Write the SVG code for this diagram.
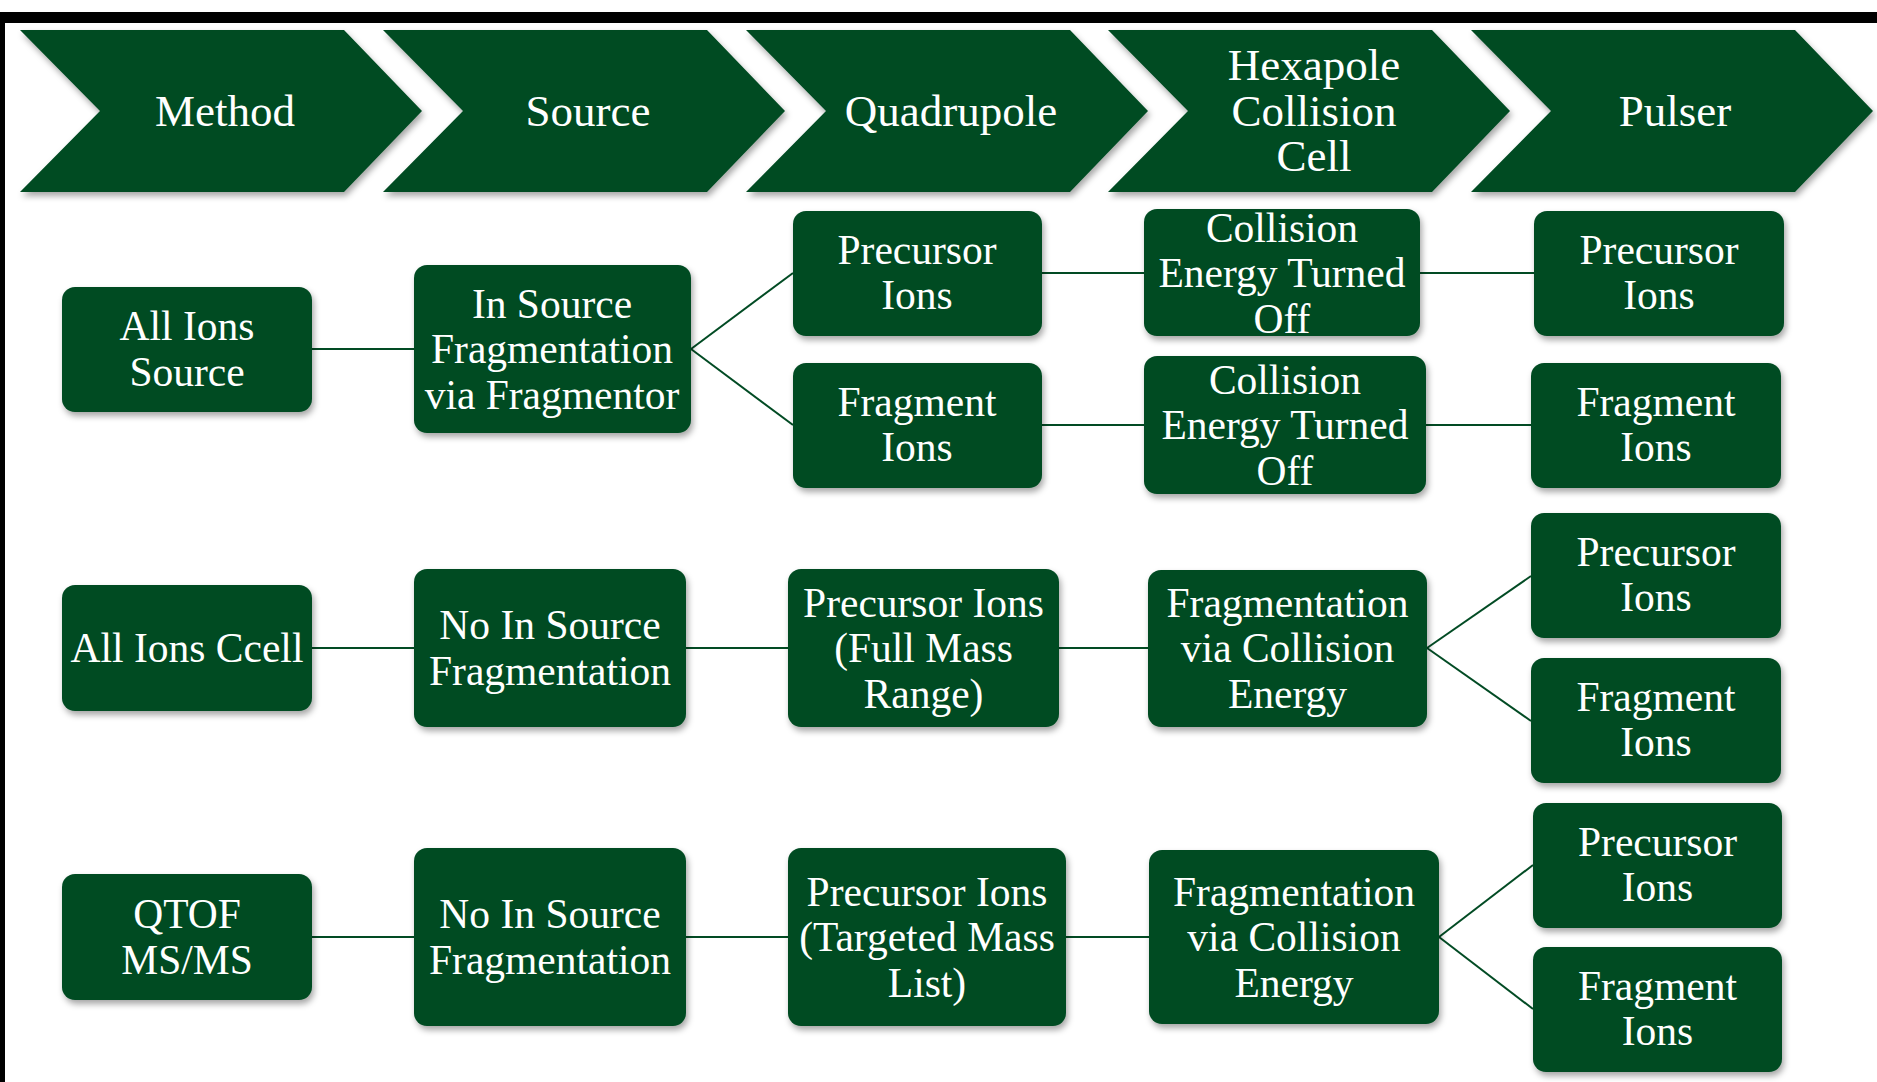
<svg xmlns="http://www.w3.org/2000/svg" width="1877" height="1082" viewBox="0 0 1877 1082">
<style>
.chev{fill:#024B24;filter:url(#sh)}
.box{fill:#024B24;filter:url(#sh)}
.ct{fill:#fff;font-family:"Liberation Serif","Times New Roman",serif;font-size:45px;text-anchor:middle}
.bt{fill:#fff;font-family:"Liberation Serif","Times New Roman",serif;font-size:41.5px;text-anchor:middle}
.cn line{stroke:#024B24;stroke-width:2}
</style>
<defs>
<filter id="sh" x="-10%" y="-10%" width="125%" height="130%">
<feDropShadow dx="2" dy="4" stdDeviation="3" flood-color="#000" flood-opacity="0.35"/>
</filter>
</defs>
<rect x="0" y="0" width="1877" height="1082" fill="#fff"/>
<rect x="0" y="12" width="1877" height="11" fill="#000"/>
<rect x="0" y="12" width="5" height="1070" fill="#000"/>

<g id="header-method"><polygon class="chev" points="20,30 344,30 422,111 344,192 20,192 100,111"/><text class="ct" x="225" y="126">Method</text></g>
<g id="header-source"><polygon class="chev" points="383,30 707,30 785,111 707,192 383,192 463,111"/><text class="ct" x="588" y="126">Source</text></g>
<g id="header-quadrupole"><polygon class="chev" points="746,30 1070,30 1148,111 1070,192 746,192 826,111"/><text class="ct" x="951" y="126">Quadrupole</text></g>
<g id="header-hexapole"><polygon class="chev" points="1108,30 1432,30 1510,111 1432,192 1108,192 1188,111"/><text class="ct" x="1314" y="80">Hexapole<tspan x="1314" y="125.5">Collision</tspan><tspan x="1314" y="171">Cell</tspan></text></g>
<g id="header-pulser"><polygon class="chev" points="1471,30 1795,30 1873,111 1795,192 1471,192 1551,111"/><text class="ct" x="1675" y="126">Pulser</text></g>

<g id="connectors" class="cn">
<line x1="311" y1="349" x2="415" y2="349"/>
<line x1="691" y1="349" x2="793" y2="273"/>
<line x1="691" y1="349" x2="793" y2="425"/>
<line x1="1041" y1="273" x2="1145" y2="273"/>
<line x1="1041" y1="425" x2="1145" y2="425"/>
<line x1="1419" y1="273" x2="1535" y2="273"/>
<line x1="1425" y1="425" x2="1532" y2="425"/>
<line x1="311" y1="648" x2="415" y2="648"/>
<line x1="685" y1="648" x2="789" y2="648"/>
<line x1="1058" y1="648" x2="1149" y2="648"/>
<line x1="1427" y1="648" x2="1531" y2="576"/>
<line x1="1427" y1="648" x2="1531" y2="721"/>
<line x1="311" y1="937" x2="415" y2="937"/>
<line x1="685" y1="937" x2="789" y2="937"/>
<line x1="1065" y1="937" x2="1150" y2="937"/>
<line x1="1439" y1="937" x2="1533" y2="865"/>
<line x1="1439" y1="937" x2="1533" y2="1009"/>
</g>

<g id="all-ions-source"><rect class="box" x="62" y="287" width="250" height="125" rx="13"/><text class="bt" x="187" y="340">All Ions<tspan x="187" y="385.5">Source</tspan></text></g>
<g id="in-source-frag"><rect class="box" x="414" y="265" width="277" height="168" rx="13"/><text class="bt" x="552" y="317.5">In Source<tspan x="552" y="363">Fragmentation</tspan><tspan x="552" y="408.5">via Fragmentor</tspan></text></g>
<g id="r1-precursor"><rect class="box" x="793" y="211" width="249" height="125" rx="13"/><text class="bt" x="917" y="263.5">Precursor<tspan x="917" y="309">Ions</tspan></text></g>
<g id="r1-fragment"><rect class="box" x="793" y="363" width="249" height="125" rx="13"/><text class="bt" x="917" y="415.5">Fragment<tspan x="917" y="461">Ions</tspan></text></g>
<g id="r1-ce-off-a"><rect class="box" x="1144" y="209" width="276" height="127" rx="13"/><text class="bt" x="1282" y="241.5">Collision<tspan x="1282" y="287">Energy Turned</tspan><tspan x="1282" y="332.5">Off</tspan></text></g>
<g id="r1-ce-off-b"><rect class="box" x="1144" y="356" width="282" height="138" rx="13"/><text class="bt" x="1285" y="393.5">Collision<tspan x="1285" y="439">Energy Turned</tspan><tspan x="1285" y="484.5">Off</tspan></text></g>
<g id="r1-pulser-precursor"><rect class="box" x="1534" y="211" width="250" height="125" rx="13"/><text class="bt" x="1659" y="263.5">Precursor<tspan x="1659" y="309">Ions</tspan></text></g>
<g id="r1-pulser-fragment"><rect class="box" x="1531" y="363" width="250" height="125" rx="13"/><text class="bt" x="1656" y="415.5">Fragment<tspan x="1656" y="461">Ions</tspan></text></g>

<g id="all-ions-ccell"><rect class="box" x="62" y="585" width="250" height="126" rx="13"/><text class="bt" x="187" y="662">All Ions Ccell</text></g>
<g id="r2-no-in-source"><rect class="box" x="414" y="569" width="272" height="158" rx="13"/><text class="bt" x="550" y="639">No In Source<tspan x="550" y="684.5">Fragmentation</tspan></text></g>
<g id="r2-precursor-full"><rect class="box" x="788" y="569" width="271" height="158" rx="13"/><text class="bt" x="923.5" y="616.5">Precursor Ions<tspan x="923.5" y="662">(Full Mass</tspan><tspan x="923.5" y="707.5">Range)</tspan></text></g>
<g id="r2-frag-ce"><rect class="box" x="1148" y="570" width="279" height="157" rx="13"/><text class="bt" x="1287.5" y="616.5">Fragmentation<tspan x="1287.5" y="662">via Collision</tspan><tspan x="1287.5" y="707.5">Energy</tspan></text></g>
<g id="r2-pulser-precursor"><rect class="box" x="1531" y="513" width="250" height="125" rx="13"/><text class="bt" x="1656" y="565.5">Precursor<tspan x="1656" y="611">Ions</tspan></text></g>
<g id="r2-pulser-fragment"><rect class="box" x="1531" y="658" width="250" height="125" rx="13"/><text class="bt" x="1656" y="710.5">Fragment<tspan x="1656" y="756">Ions</tspan></text></g>

<g id="qtof-msms"><rect class="box" x="62" y="874" width="250" height="126" rx="13"/><text class="bt" x="187" y="928">QTOF<tspan x="187" y="973.5">MS/MS</tspan></text></g>
<g id="r3-no-in-source"><rect class="box" x="414" y="848" width="272" height="178" rx="13"/><text class="bt" x="550" y="928">No In Source<tspan x="550" y="973.5">Fragmentation</tspan></text></g>
<g id="r3-precursor-targeted"><rect class="box" x="788" y="848" width="278" height="178" rx="13"/><text class="bt" x="927" y="905.5">Precursor Ions<tspan x="927" y="951">(Targeted Mass</tspan><tspan x="927" y="996.5">List)</tspan></text></g>
<g id="r3-frag-ce"><rect class="box" x="1149" y="850" width="290" height="174" rx="13"/><text class="bt" x="1294" y="905.5">Fragmentation<tspan x="1294" y="951">via Collision</tspan><tspan x="1294" y="996.5">Energy</tspan></text></g>
<g id="r3-pulser-precursor"><rect class="box" x="1533" y="803" width="249" height="125" rx="13"/><text class="bt" x="1657.5" y="855.5">Precursor<tspan x="1657.5" y="901">Ions</tspan></text></g>
<g id="r3-pulser-fragment"><rect class="box" x="1533" y="947" width="249" height="125" rx="13"/><text class="bt" x="1657.5" y="999.5">Fragment<tspan x="1657.5" y="1045">Ions</tspan></text></g>
</svg>
